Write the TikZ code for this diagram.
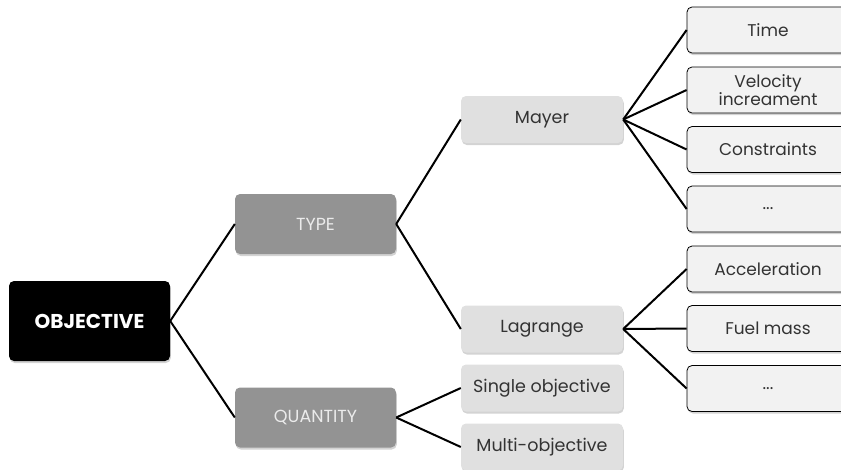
\documentclass[tikz,border=0pt]{standalone}
\usepackage{fontspec}
\setmainfont{Poppins}
\usetikzlibrary{shadows}

\definecolor{typegray}{HTML}{939393}
\definecolor{subgray}{HTML}{E0E0E0}
\definecolor{leafgray}{HTML}{F2F2F2}
\definecolor{textgray}{HTML}{333333}

\begin{document}
\begin{tikzpicture}[x=1pt,y=-1pt,
  box/.style={rounded corners=5pt, inner sep=2pt, align=center,
    drop shadow={opacity=0.35, shadow xshift=0.8pt, shadow yshift=-2pt}},
  rootbox/.style={box, fill=black, text=white, minimum width=161pt, minimum height=80pt,
    font=\fontsize{20}{24}\selectfont\bfseries},
  typebox/.style={box, fill=typegray, text=white!92!black, minimum width=161pt, minimum height=60pt,
    font=\fontsize{17.5}{20}\selectfont},
  subbox/.style={box, fill=subgray, text=textgray, minimum width=162pt, minimum height=47pt,
    font=\fontsize{17.5}{20}\selectfont},
  leafbox/.style={box, draw=black, line width=0.8pt, fill=leafgray, text=textgray,
    minimum width=162pt, minimum height=46pt, font=\fontsize{17}{17}\selectfont},
  link/.style={line width=2pt}]
\useasboundingbox (0,0) rectangle (841,469);

% root and first level
\node[rootbox] (obj) at (89.5,321) {OBJECTIVE};
\node[typebox] (type) at (315.5,224) {TYPE};
\node[typebox] (qty) at (315.5,417.5) {QUANTITY};

% second level
\node[subbox] (mayer) at (542,119.5) {Mayer};
\node[subbox] (lag) at (542,329) {Lagrange};
\node[subbox] (single) at (542,388) {Single objective};
\node[subbox] (multi) at (542,447) {Multi-objective};

% leaves
\node[leafbox] (time) at (768,30) {Time};
\node[leafbox] (vel) at (768,90) {Velocity\\increament};
\node[leafbox] (cons) at (768,149.5) {Constraints};
\node[leafbox] (mdots) at (768,209) {...};
\node[leafbox] (acc) at (768,269) {Acceleration};
\node[leafbox] (fuel) at (768,328.5) {Fuel mass};
\node[leafbox] (ldots) at (768,388.5) {...};

\draw[link] (obj.east) -- (type.west);
\draw[link] (obj.east) -- (qty.west);
\draw[link] (type.east) -- (mayer.west);
\draw[link] (type.east) -- (lag.west);
\draw[link] (qty.east) -- (single.west);
\draw[link] (qty.east) -- (multi.west);
\foreach \leaf in {time,vel,cons,mdots}
  \draw[link] (mayer.east) -- (\leaf.west);
\foreach \leaf in {acc,fuel,ldots}
  \draw[link] (lag.east) -- (\leaf.west);

\end{tikzpicture}
\end{document}
